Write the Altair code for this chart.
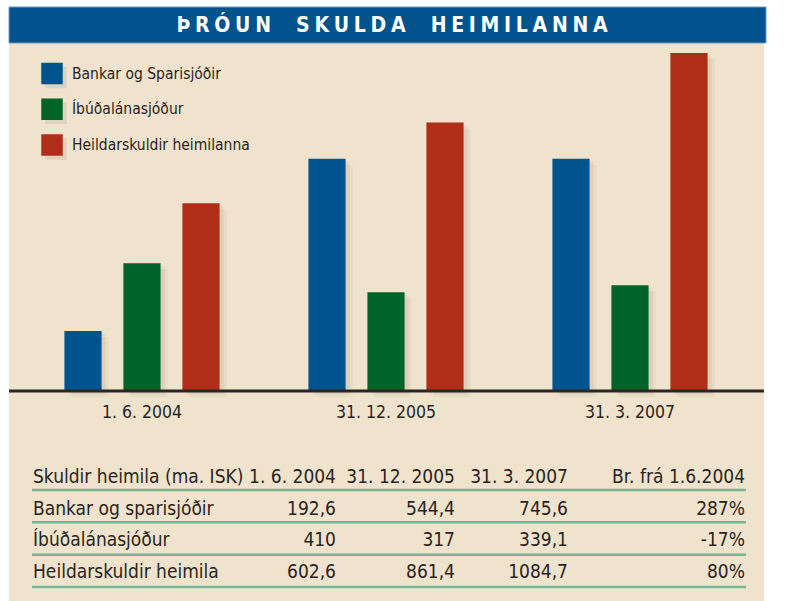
import altair as alt
import pandas as pd

# ---------------- data ----------------
title_text = "ÞRÓUN SKULDA HEIMILANNA"
dates = ["1. 6. 2004", "31. 12. 2005", "31. 3. 2007"]
series = ["Bankar og Sparisjóðir", "Íbúðalánasjóður", "Heildarskuldir heimilanna"]
colors = ["#00548E", "#006428", "#B02D17"]
# bar heights as drawn in the picture
bankar = [192.6, 745.6, 745.6]
ibudalan = [410, 317, 339.1]
heildar = [602.6, 861.4, 1084.7]

table_header = ["Skuldir heimila (ma. ISK)", "1. 6. 2004", "31. 12. 2005", "31. 3. 2007", "Br. frá 1.6.2004"]
table_labels = ["Bankar og sparisjóðir", "Íbúðalánasjóður", "Heildarskuldir heimila"]
col_2004 = ["192,6", "410", "602,6"]
col_2005 = ["544,4", "317", "861,4"]
col_2007 = ["745,6", "339,1", "1084,7"]
col_change = ["287%", "-17%", "80%"]

FONT = "DejaVu Sans Condensed, sans-serif"
TXT = "#2A2421"
BEIGE = "#EFE3CD"
SHADOW = "#6E5E42"

bars_df = pd.DataFrame(
    [{"date": d, "series": s, "value": v}
     for s, vals in zip(series, [bankar, ibudalan, heildar])
     for d, v in zip(dates, vals)]
)
dates_df = pd.DataFrame({"date": dates})
legend_df = pd.DataFrame({"series": series})
table_df = pd.DataFrame({
    "row": [0, 1, 2, 3],
    "label": [table_header[0]] + table_labels,
    "c1": [table_header[1]] + col_2004,
    "c2": [table_header[2]] + col_2005,
    "c3": [table_header[3]] + col_2007,
    "c4": [table_header[4]] + col_change,
})
one = pd.DataFrame({"a": [0]})

spaced_title = "\u2003\u2004".join("\u2005".join(w) for w in title_text.split(" "))

# ---------------- decoration ----------------
panel = alt.Chart(one).mark_rect(color=BEIGE).encode(
    x=alt.value(9), x2=alt.value(764), y=alt.value(7), y2=alt.value(601))
title_bar = alt.Chart(one).mark_rect(color="#00538C", stroke="#6F9CC2", strokeWidth=1).encode(
    x=alt.value(9), x2=alt.value(766), y=alt.value(7), y2=alt.value(43))
title = alt.Chart(pd.DataFrame({"t": [spaced_title]})).mark_text(
    font=FONT, fontSize=21, fontWeight="bold", color="white", baseline="alphabetic", align="center"
).encode(x=alt.value(392), y=alt.value(32), text="t:N")

# ---------------- bars ----------------
xscale = alt.Scale(domain=dates, range=[20, 752], paddingInner=0, paddingOuter=0)
yscale = alt.Scale(domain=[0, 1000], range=[391, 79.4], nice=False, zero=True)
cscale = alt.Scale(domain=series, range=colors)


def shadow(dx, dy, op):
    return alt.Chart(bars_df).mark_bar(color=SHADOW, opacity=op).encode(
        x=alt.X("date:N", scale=xscale, axis=None, sort=dates),
        xOffset=alt.XOffset("series:N", scale=alt.Scale(domain=series, paddingInner=0.37,
                                                        paddingOuter=0.753, range=[dx, 244 + dx])),
        y=alt.Y("value:Q", scale=alt.Scale(domain=[0, 1000], range=[391 + dy, 79.4 + dy],
                                           nice=False, zero=True), axis=None),
    )


bars = alt.Chart(bars_df).mark_bar().encode(
    x=alt.X("date:N", scale=xscale, axis=None, sort=dates),
    xOffset=alt.XOffset("series:N", scale=alt.Scale(domain=series, paddingInner=0.37, paddingOuter=0.753)),
    y=alt.Y("value:Q", scale=yscale, axis=None),
    color=alt.Color("series:N", scale=cscale, legend=None),
)
baseline = alt.Chart(one).mark_rule(color="#2B2623", strokeWidth=3).encode(
    x=alt.value(9), x2=alt.value(764), y=alt.datum(0))
date_labels = alt.Chart(dates_df).mark_text(
    font=FONT, fontSize=17.5, color=TXT, baseline="alphabetic", align="center"
).encode(x=alt.X("date:N", scale=xscale, axis=None, sort=dates), y=alt.value(418), text="date:N")
bar_block = alt.layer(bars, baseline, date_labels)

# ---------------- legend ----------------
lscale = alt.Scale(type="point", domain=series, range=[73.5, 145], padding=0)
lscale_sh = alt.Scale(type="point", domain=series, range=[77.5, 149], padding=0)
leg_sh = alt.Chart(legend_df).mark_square(size=462, opacity=0.12, color=SHADOW).encode(
    x=alt.value(56), y=alt.Y("series:N", scale=lscale_sh, axis=None))
leg_sq = alt.Chart(legend_df).mark_square(size=462, opacity=1).encode(
    x=alt.value(52), y=alt.Y("series:N", scale=lscale, axis=None),
    color=alt.Color("series:N", scale=cscale, legend=None))
leg_txt = alt.Chart(legend_df).mark_text(
    font=FONT, fontSize=15.5, color=TXT, align="left", baseline="middle"
).encode(x=alt.value(72), y=alt.Y("series:N", scale=lscale, axis=None), text="series:N")

# ---------------- table ----------------
tscale = alt.Scale(type="point", domain=[0, 1, 2, 3], range=[483, 578], padding=0)
lines_scale = alt.Scale(type="point", domain=[0, 1, 2, 3], range=[490, 587], padding=0)
tlines = alt.Chart(table_df).mark_rule(color="#74B793", strokeWidth=2.5).encode(
    x=alt.value(32), x2=alt.value(746), y=alt.Y("row:O", scale=lines_scale, axis=None))


def tcol(field, xpos, align):
    return alt.Chart(table_df).mark_text(
        font=FONT, fontSize=19, color=TXT, align=align, baseline="alphabetic"
    ).encode(x=alt.value(xpos), y=alt.Y("row:O", scale=tscale, axis=None), text=f"{field}:N")


table = [tlines, tcol("label", 33, "left"), tcol("c1", 336, "right"), tcol("c2", 455, "right"),
         tcol("c3", 568, "right"), tcol("c4", 745, "right")]

chart = alt.layer(panel, title_bar, title, shadow(7, 6, 0.06), shadow(4, 3, 0.08), bar_block,
                  leg_sh, leg_sq, leg_txt, *table).resolve_scale(
    x="independent", y="independent", xOffset="independent"
).properties(
    width=789, height=601, padding=0, autosize=alt.AutoSizeParams(type="none"), background="white"
).configure_view(stroke=None)

chart.save("out.html", embed_options={"renderer": "svg", "actions": False})
